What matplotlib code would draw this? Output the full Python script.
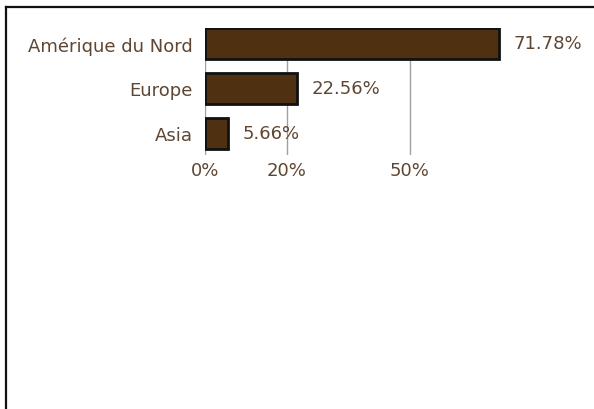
import matplotlib
matplotlib.use('Agg')
import matplotlib.pyplot as plt
from matplotlib.lines import Line2D

# data
regions = ['Amérique du Nord', 'Europe', 'Asia']
shares = [71.78, 22.56, 5.66]
tick_vals = [0, 20, 50]
tick_labels = ['0%', '20%', '50%']

text_col = '#5e4632'
bar_col = '#4f3011'
fs = 13

fig = plt.figure(figsize=(5.94, 4.10), dpi=100)
W, H = 594.0, 410.0
# axes box in pixels: x 205..594, y 29..156 (from top)
ax = fig.add_axes([205 / W, 1 - 156 / H, (594 - 205) / W, (156 - 29) / H])

ypos = list(range(len(regions)))
ax.barh(ypos, shares, height=0.69, color=bar_col, edgecolor='#111111',
        linewidth=2, zorder=3)

ax.set_xlim(0, (594 - 205) / 4.09)
ax.set_ylim(2.49, -0.344)

for v in tick_vals:
    ax.axvline(v, color='#a0a0a0', linewidth=1, zorder=1)

for y, v in zip(ypos, shares):
    ax.text(v + 3.6, y, '%.2f%%' % v, va='center', ha='left',
            color=text_col, fontsize=fs)

ax.set_yticks(ypos)
ax.set_yticklabels(regions, color=text_col, fontsize=fs)
ax.set_xticks(tick_vals)
ax.set_xticklabels(tick_labels, color=text_col, fontsize=fs)
ax.tick_params(axis='both', length=0)
ax.tick_params(axis='y', pad=9)
ax.tick_params(axis='x', pad=4)
for s in ax.spines.values():
    s.set_visible(False)

# outer frame: top and left only
fig.add_artist(Line2D([6 / W, 1], [1 - 8 / H, 1 - 8 / H], color='#111111',
                      linewidth=1.6, transform=fig.transFigure))
fig.add_artist(Line2D([6 / W, 6 / W], [0, 1 - 8 / H], color='#111111',
                      linewidth=1.6, transform=fig.transFigure))

fig.savefig('out.png', dpi=100)
